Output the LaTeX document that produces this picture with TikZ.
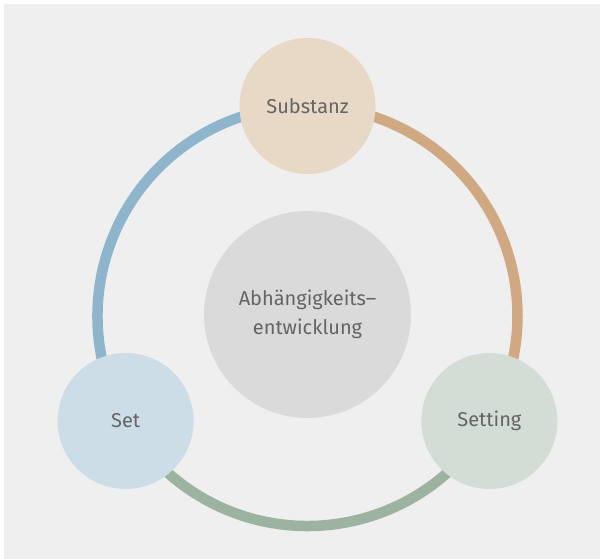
\documentclass[tikz,border=0pt]{standalone}
\usepackage{fontspec}
\setmainfont{Fira Sans}
\usetikzlibrary{calc,backgrounds}
\definecolor{bg}{HTML}{EFEFEF}
\definecolor{txt}{HTML}{646464}
\definecolor{cSub}{HTML}{E8D8C6}
\definecolor{cSet}{HTML}{CDDDE8}
\definecolor{cSetting}{HTML}{D3DDD6}
\definecolor{cMid}{HTML}{DADADA}
\definecolor{aOrange}{HTML}{D0A882}
\definecolor{aBlue}{HTML}{8FB5CC}
\definecolor{aGreen}{HTML}{9BB3A0}
\tikzset{
  bubble/.style={circle, minimum size=136pt, inner sep=0pt, text=txt, font=\fontsize{20}{24}\selectfont},
  ring/.style={line width=10.5pt},
}
\begin{document}
\begin{tikzpicture}[x=1pt,y=1pt]
\useasboundingbox (0,0) rectangle (600,559);
\coordinate (c) at (307.5,243);
% nodes
\node[bubble, fill=cMid, minimum size=207pt, align=center, font=\fontsize{20}{29}\selectfont] (mid) at (307.5,244.5) {Abhängigkeits–\\entwicklung};
\node[bubble, fill=cSub] (sub) at ($(c)+(90:210)$) {Substanz};
\node[bubble, fill=cSet] (set) at ($(c)+(210:210)$) {Set};
\node[bubble, fill=cSetting] (setting) at ($(c)+(-30:210)$) {Setting};
\begin{scope}[on background layer]
\fill[white] (0,0) rectangle (600,559);
\fill[bg] (4,0) rectangle (600,555);
\draw[ring, aOrange] (sub.center) arc[start angle=90, end angle=-30, radius=210];
\draw[ring, aGreen] (setting.center) arc[start angle=-30, end angle=-150, radius=210];
\draw[ring, aBlue] (set.center) arc[start angle=210, end angle=90, radius=210];
\end{scope}
\end{tikzpicture}
\end{document}
